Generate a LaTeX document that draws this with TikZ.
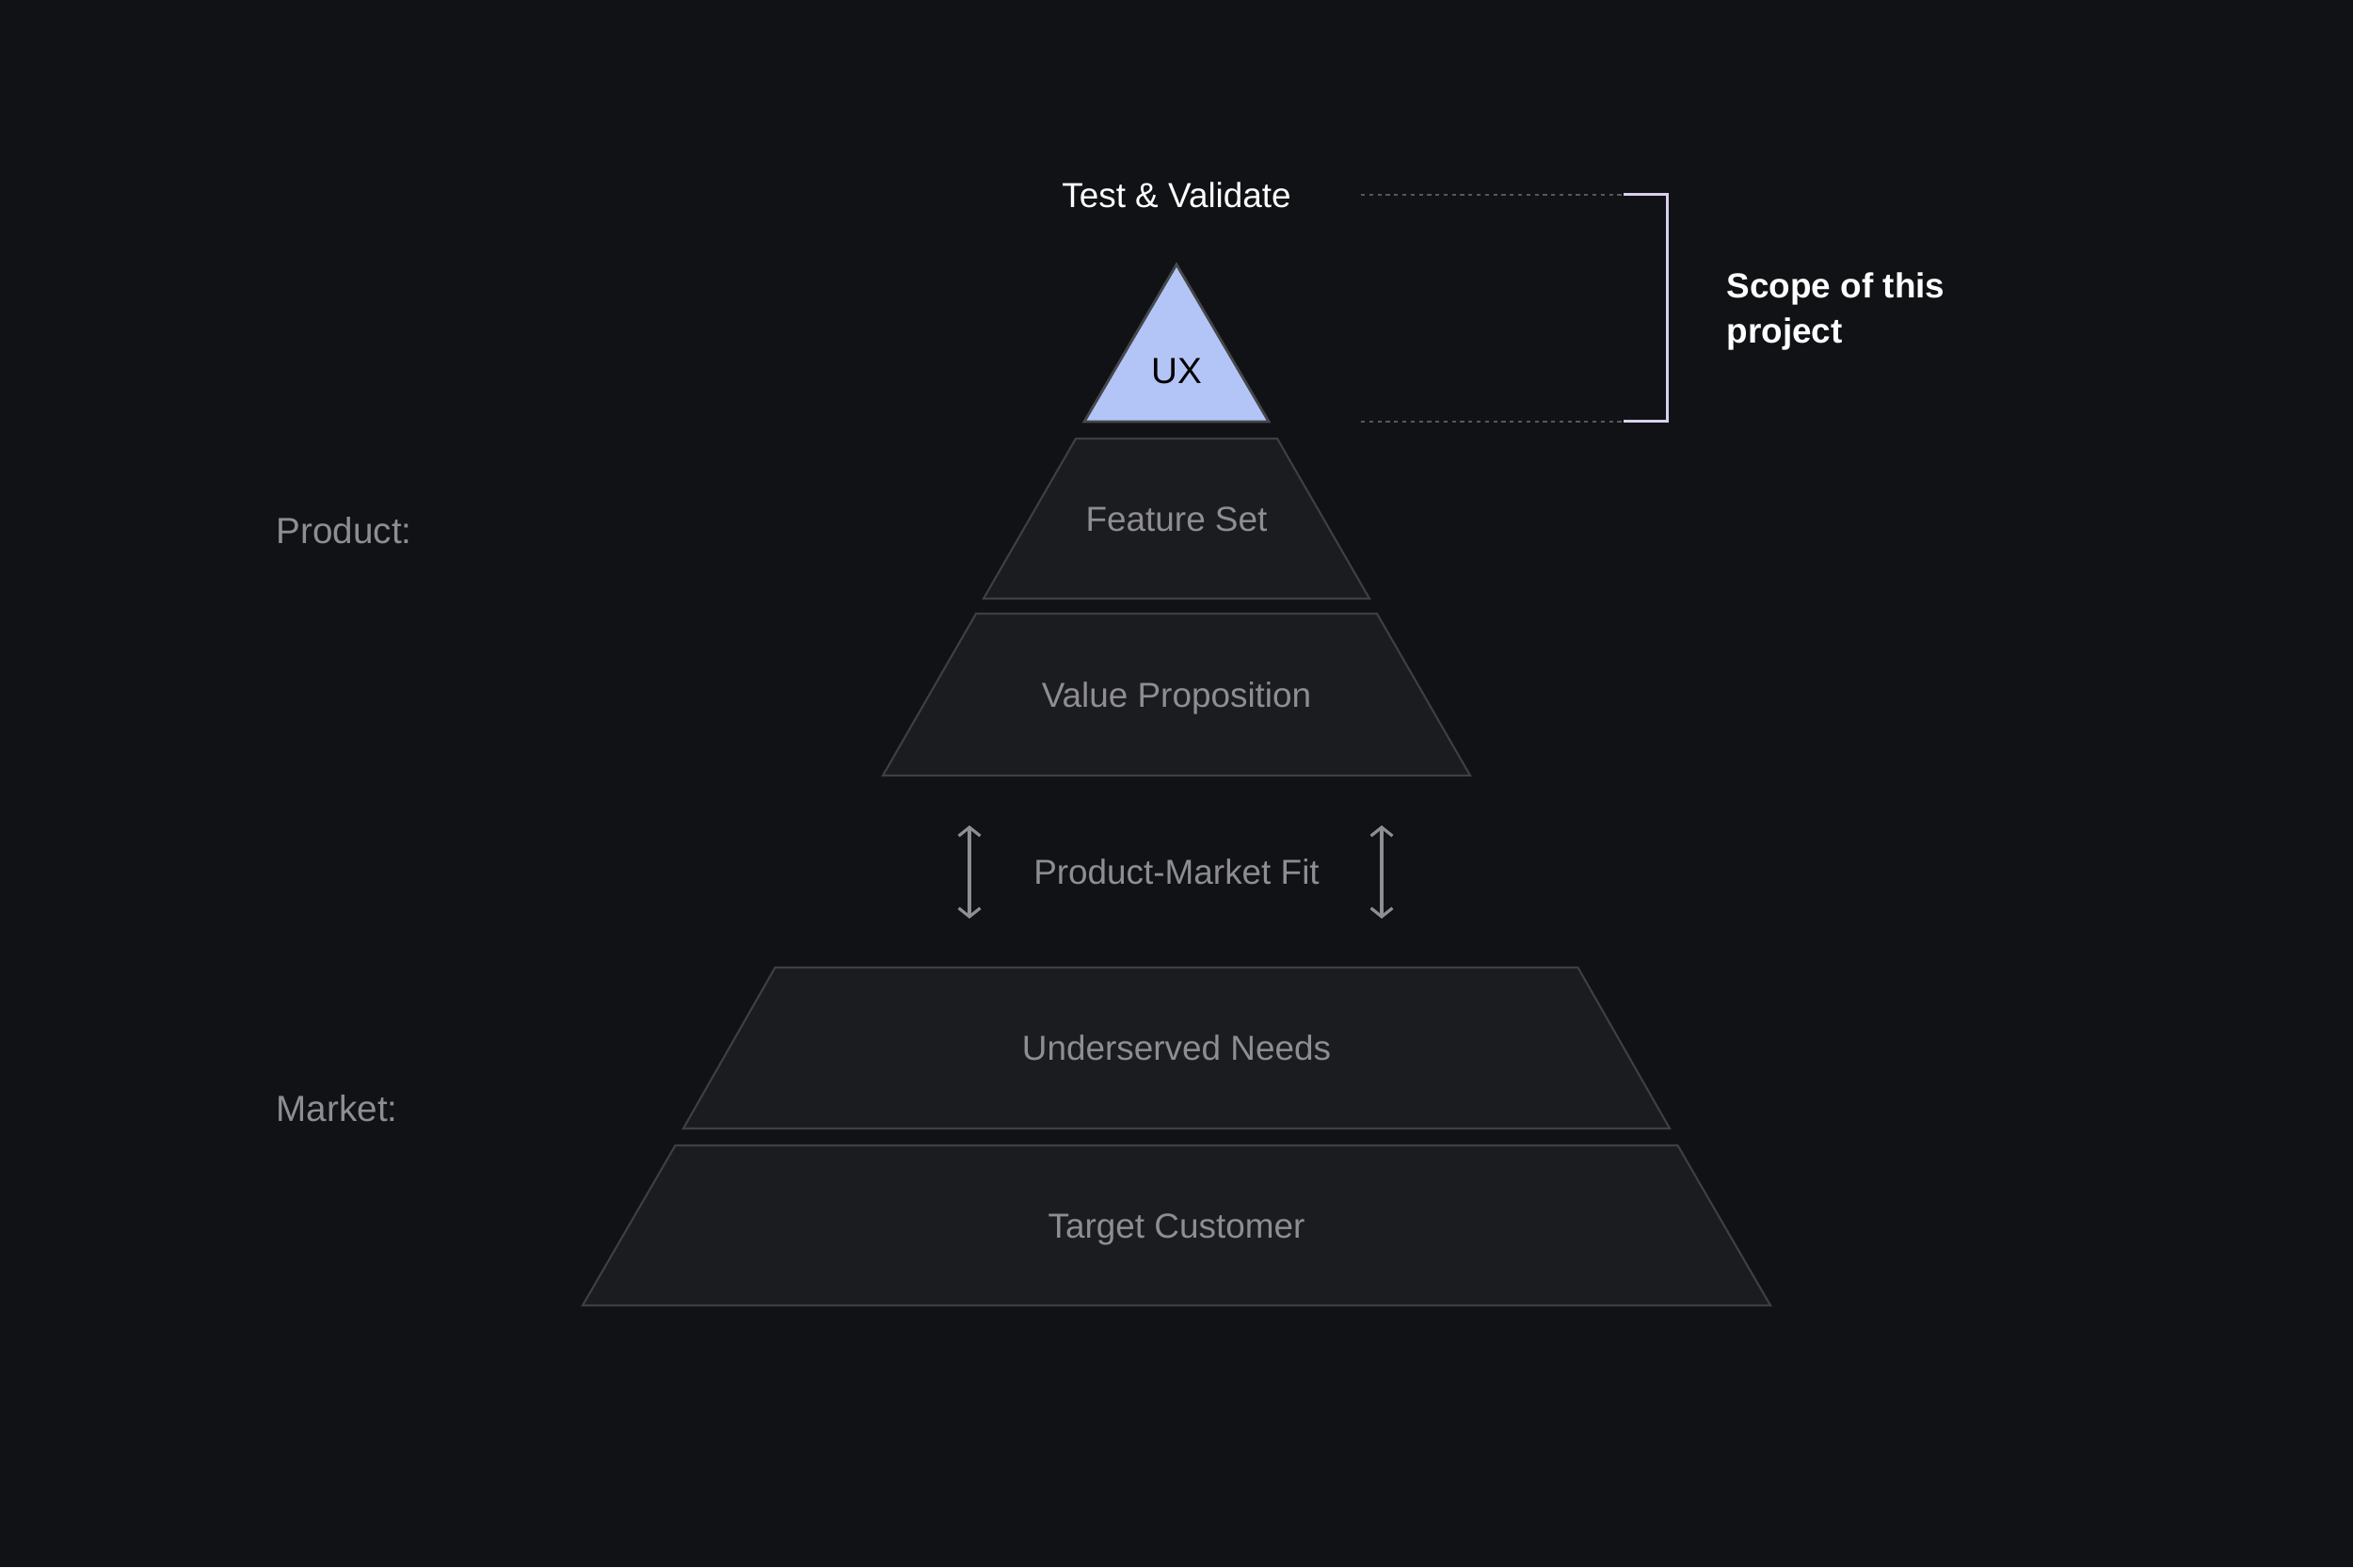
\documentclass[tikz,border=0pt]{standalone}
\usepackage{fontspec}
\setmainfont{Liberation Sans}
\usetikzlibrary{arrows.meta,positioning}
\definecolor{bgdark}{HTML}{111215}
\definecolor{layerfill}{HTML}{1B1C1F}
\definecolor{layeredge}{HTML}{3E3F43}
\definecolor{textgray}{HTML}{8D8D93}
\definecolor{uxfill}{HTML}{B3C5F7}
\definecolor{uxedge}{HTML}{46474B}
\definecolor{dotgray}{HTML}{56575B}
\definecolor{bracketlilac}{HTML}{D9D0EC}
\tikzset{
  every node/.append style={font=\fontsize{10.5}{13.6}\selectfont,inner sep=0pt},
  layer/.style={fill=layerfill,draw=layeredge,line width=0.6pt},
  layertext/.style={text=textgray,text height=7.5pt,text depth=0pt},
  sidetext/.style={layertext,font=\fontsize{11}{13.6}\selectfont,anchor=west},
  scopeline/.style={dotgray,line width=0.6pt,dash pattern=on 1.2pt off 1.3pt},
}

\begin{document}
\begin{tikzpicture}[>={Straight Barb[length=2.6pt,width=6.5pt]}]
  \fill[bgdark] (0,0) rectangle (25,16.65);
  \useasboundingbox (0,0) rectangle (25,16.65);
  % tip of the pyramid
  \coordinate (apex) at (12.5,13.84);
  \filldraw[fill=uxfill,draw=uxedge,line width=0.8pt]
    (apex) -- (11.52,12.17) -- (13.48,12.17) -- cycle;
  \node[text=black,text height=7.5pt,text depth=0pt,
    font=\fontsize{11}{13.6}\selectfont] (ux) at (12.5,12.71) {UX};
  % layers
  \foreach \yt/\yb/\wt/\wb/\nm/\txt in {
      11.99/10.29/1.07/2.05/feature/Feature Set,
      10.13/8.41/2.13/3.12/value/Value Proposition,
      6.37/4.66/4.265/5.24/needs/Underserved Needs,
      4.48/2.78/5.325/6.31/customer/Target Customer}
  {
    \draw[layer] (12.5-\wt,\yt) -- (12.5+\wt,\yt)
      -- (12.5+\wb,\yb) -- (12.5-\wb,\yb) -- cycle;
    \node[layertext] (\nm) at (12.5,{(\yt+\yb)/2}) {\txt};
  }
  % product-market fit
  \node[layertext] (fit) at (12.5,7.39) {Product-Market Fit};
  \coordinate (fitLtop) at (10.30,7.88);
  \coordinate (fitLbot) at (10.30,6.89);
  \coordinate (fitRtop) at (14.68,7.88);
  \coordinate (fitRbot) at (14.68,6.89);
  \draw[<->,textgray,line width=0.9pt] (fitLtop) -- (fitLbot);
  \draw[<->,textgray,line width=0.9pt] (fitRtop) -- (fitRbot);
  % side labels
  \node[sidetext] (product) at (2.93,11.01) {Product:};
  \node[sidetext] (market) at (2.93,4.87) {Market:};
  % scope bracket
  \node[text=white,text height=7.5pt,text depth=0pt] (test) at (12.5,14.58) {Test \& Validate};
  \coordinate (topL) at (14.46,14.58);
  \coordinate (topR) at (17.25,14.58);
  \coordinate (botL) at (14.46,12.17);
  \coordinate (botR) at (17.25,12.17);
  \draw[scopeline] (topL) -- (topR);
  \draw[scopeline] (botL) -- (botR);
  \draw[bracketlilac,line width=0.85pt] (topR) -- ++(0.46,0) |- (botR);
  \node[text=white,font=\fontsize{10.5}{13.6}\selectfont\bfseries,align=left,anchor=west]
    (scope) at (18.34,13.34) {Scope of this\\project};
\end{tikzpicture}
\end{document}
